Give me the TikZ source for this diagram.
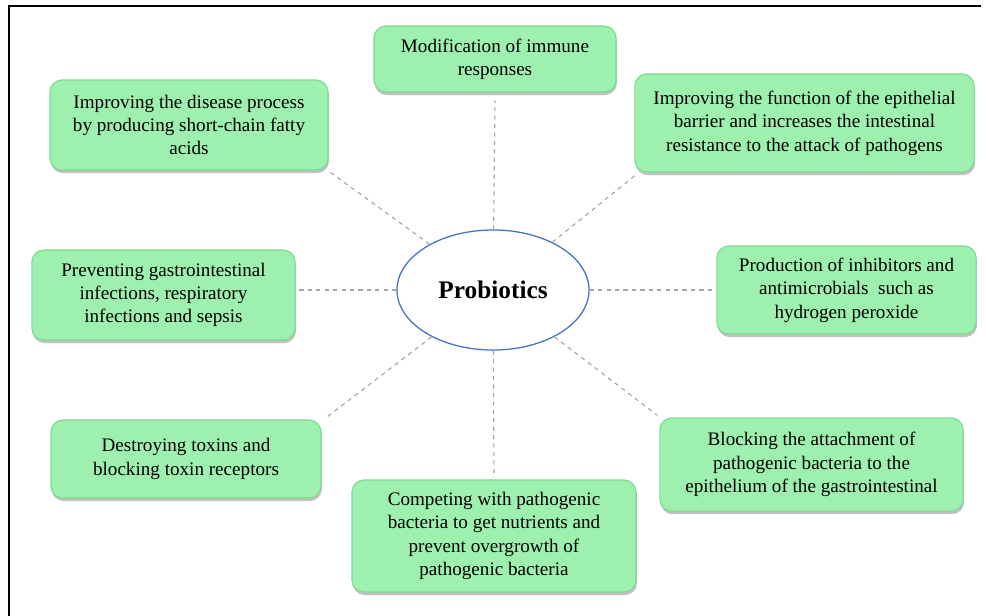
\documentclass[tikz,border=0pt]{standalone}
\usepackage{fontspec}
\setmainfont{Liberation Serif}
\usetikzlibrary{shapes.geometric,shadows}

\definecolor{boxgreen}{RGB}{158,240,174}
\definecolor{boxedge}{RGB}{126,218,146}
\definecolor{hubblue}{RGB}{68,114,196}
\definecolor{linkgray}{RGB}{165,165,165}

\tikzset{
  effect/.style={rectangle, rounded corners=0.3cm, fill=boxgreen, draw=boxedge,
    line width=0.8pt, inner sep=0pt, align=center,
    font=\fontsize{13.6}{16.6}\selectfont,
    drop shadow={shadow xshift=0.6pt, shadow yshift=-2.2pt, opacity=0.45, fill=black!55}},
  hub/.style={ellipse, draw=hubblue, line width=0.9pt, fill=white,
    minimum width=4.8cm, minimum height=3cm, inner sep=0pt,
    font=\fontsize{18}{20}\selectfont\bfseries},
  link/.style={draw=linkgray, dashed, line width=0.8pt}
}

\begin{document}
\begin{tikzpicture}[x=0.025cm,y=-0.025cm]
  \useasboundingbox (0,0) rectangle (986,616);
  % frame
  \draw[line width=1.9pt] (981,6) -- (9,6) -- (9,616);

  % centre
  \node[hub] (pro) at (493,290) {Probiotics};

  % effects
  \node[effect, minimum width=6.05cm, minimum height=1.65cm] (imm) at (495,59)
    {Modification of immune\\responses};
  \node[effect, minimum width=6.95cm, minimum height=2.25cm] (scfa) at (189,125)
    {Improving the disease process\\by producing short-chain fatty\\acids};
  \node[effect, minimum width=8.48cm, minimum height=2.45cm] (barrier) at (804.5,123)
    {Improving the function of the epithelial\\barrier and increases the intestinal\\resistance to the attack of pathogens};
  \node[effect, minimum width=6.58cm, minimum height=2.25cm] (gi) at (163.5,295)
    {Preventing gastrointestinal\\infections, respiratory\\infections and sepsis};
  \node[effect, minimum width=6.48cm, minimum height=2.2cm] (inhib) at (846.5,290)
    {Production of inhibitors and\\antimicrobials\ \ such as\\hydrogen peroxide};
  \node[effect, minimum width=6.75cm, minimum height=1.95cm] (toxin) at (186,459)
    {Destroying toxins and\\blocking toxin receptors};
  \node[effect, minimum width=7.1cm, minimum height=2.8cm] (compete) at (494,536)
    {Competing with pathogenic\\bacteria to get nutrients and\\prevent overgrowth of\\pathogenic bacteria};
  \node[effect, minimum width=7.58cm, minimum height=2.33cm] (attach) at (811.5,464.5)
    {Blocking the attachment of\\pathogenic bacteria to the\\epithelium of the gastrointestinal};

  % dashed connectors
  \draw[link] (pro) -- ([yshift=-0.2cm]imm.south);
  \draw[link] (pro) -- ([shift={(0.05cm,-0.05cm)}]scfa.south east);
  \draw[link] (pro) -- ([shift={(0.05cm,-0.05cm)}]barrier.south west);
  \draw[link] (pro.west) -- ([xshift=0.05cm]pro.west -| gi.east);
  \draw[link] (pro.east) -- ([xshift=-0.05cm]pro.east -| inhib.west);
  \draw[link] (pro) -- ([shift={(0.12cm,0.05cm)}]toxin.north east);
  \draw[link] (pro) -- ([yshift=0.05cm]compete.north);
  \draw[link] (pro) -- ([shift={(-0.05cm,0.05cm)}]attach.north west);
\end{tikzpicture}
\end{document}
